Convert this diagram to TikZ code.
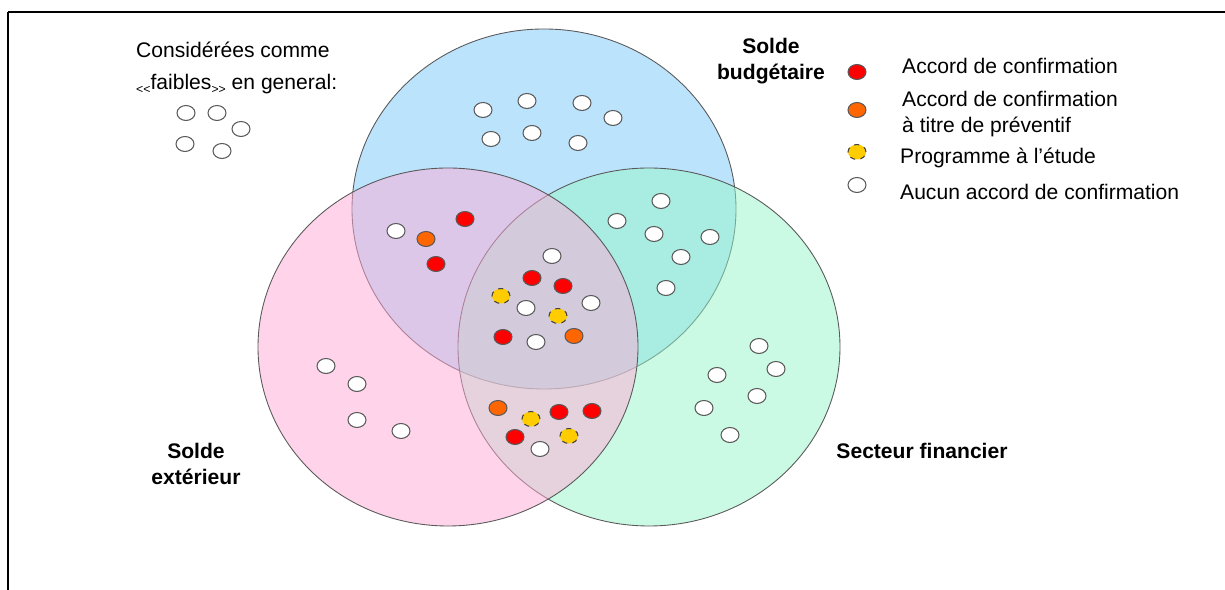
\documentclass[tikz,border=0pt]{standalone}
\usepackage{fontspec}
\setmainfont{Liberation Sans}
\usetikzlibrary{shapes.geometric}

\definecolor{budgetblue}{RGB}{120,200,250}
\definecolor{extpink}{RGB}{255,170,215}
\definecolor{fingreen}{RGB}{150,245,200}
\definecolor{accorange}{RGB}{255,102,0}
\definecolor{accyellow}{RGB}{255,204,0}

\tikzset{
  marble/.style={ellipse, draw=black!65, line width=0.6pt, minimum width=0.36cm, minimum height=0.3cm, inner sep=0pt},
  wdot/.style={marble, fill=white},
  rdot/.style={marble, fill=red},
  odot/.style={marble, fill=accorange},
  ydot/.style={marble, fill=accyellow, dashed, draw=black!75},
  venn/.style={draw=black!65, line width=0.5pt, fill opacity=0.5},
  settitle/.style={font=\fontsize{12}{14.5}\selectfont\bfseries, align=center},
  legtext/.style={anchor=west, align=left},
}

\begin{document}
\begin{tikzpicture}[x=0.02cm, y=-0.02cm, font=\fontsize{12}{14.5}\selectfont]
\useasboundingbox (0,0) rectangle (1225,590);

   \draw[line width=1.2pt] (8,12) -- (148,12);
   \draw[line width=0.7pt] (148,12) -- (1100,12);
   \draw[line width=1.2pt] (1100,12) -- (1225,12);
   \draw[line width=1.2pt] (8,12) -- (8,590);

   \path[venn, fill=budgetblue] (544,209) ellipse [x radius=192, y radius=180];
   \path[venn, fill=fingreen] (649,347) ellipse [x radius=191, y radius=179];
   \path[venn, fill=extpink] (448,347) ellipse [x radius=190, y radius=179];

   \node[settitle] at (771,61) (budget) {Solde\\budgétaire};
   \node[settitle] at (196,464) (exterieur) {Solde\\extérieur};
   \node[settitle] at (922,451) (financier) {Secteur financier};

   \node[anchor=west, align=left] at (130,68) (faibles)
      {Considérées comme\\[4pt]\raisebox{-0.35ex}{\scriptsize<{}<}faibles\raisebox{-0.35ex}{\scriptsize>{}>} en general:};

   \node[wdot] at (186,113) (f1) {};
   \node[wdot] at (217,113) (f2) {};
   \node[wdot] at (241,129) (f3) {};
   \node[wdot] at (185,144) (f4) {};
   \node[wdot] at (222,151) (f5) {};

   \node[wdot] at (483,110) (b1) {};
   \node[wdot] at (527,101) (b2) {};
   \node[wdot] at (582,103) (b3) {};
   \node[wdot] at (613,118) (b4) {};
   \node[wdot] at (491,139) (b5) {};
   \node[wdot] at (532,133) (b6) {};
   \node[wdot] at (578,143) (b7) {};

   \node[wdot] at (396,231) (be1) {};
   \node[rdot] at (465,219) (be2) {};
   \node[odot] at (426,239) (be3) {};
   \node[rdot] at (436,264) (be4) {};

   \node[wdot] at (617,221) (bf1) {};
   \node[wdot] at (661,201) (bf2) {};
   \node[wdot] at (654,234) (bf3) {};
   \node[wdot] at (710,237) (bf4) {};
   \node[wdot] at (681,257) (bf5) {};
   \node[wdot] at (666,288) (bf6) {};

   \node[wdot] at (552,256) (all1) {};
   \node[rdot] at (532,278) (all2) {};
   \node[rdot] at (563,286) (all3) {};
   \node[ydot] at (501,296) (all4) {};
   \node[wdot] at (526,308) (all5) {};
   \node[ydot] at (558,316) (all6) {};
   \node[wdot] at (591,303) (all7) {};
   \node[rdot] at (503,337) (all8) {};
   \node[wdot] at (536,342) (all9) {};
   \node[odot] at (574,336) (all10) {};

   \node[wdot] at (326,366) (e1) {};
   \node[wdot] at (357,384) (e2) {};
   \node[wdot] at (357,420) (e3) {};
   \node[wdot] at (401,431) (e4) {};

   \node[odot] at (498,408) (ef1) {};
   \node[ydot] at (531,419) (ef2) {};
   \node[rdot] at (559,412) (ef3) {};
   \node[rdot] at (592,411) (ef4) {};
   \node[rdot] at (515,437) (ef5) {};
   \node[wdot] at (540,449) (ef6) {};
   \node[ydot] at (569,436) (ef7) {};

   \node[wdot] at (759,346) (s1) {};
   \node[wdot] at (776,369) (s2) {};
   \node[wdot] at (717,375) (s3) {};
   \node[wdot] at (757,396) (s4) {};
   \node[wdot] at (704,408) (s5) {};
   \node[wdot] at (730,435) (s6) {};

   \node[rdot] at (857,72) (leg1) {};
   \node[odot] at (857,110) (leg2) {};
   \node[ydot] at (857,152) (leg3) {};
   \node[wdot] at (857,185) (leg4) {};

   \node[legtext] at (896,66) (legtext1) {Accord de confirmation};
   \node[legtext] at (896,114) (legtext2) {Accord de confirmation\\à titre de préventif};
   \node[legtext] at (894,158) (legtext3) {Programme à l’étude};
   \node[legtext] at (894,192) (legtext4) {Aucun accord de confirmation};

\end{tikzpicture}
\end{document}
